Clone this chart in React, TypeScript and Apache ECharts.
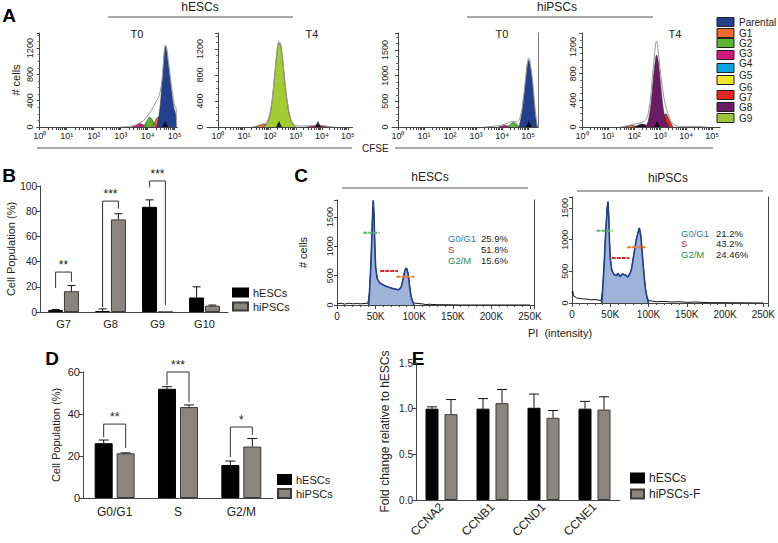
import React, { useEffect, useRef } from "react";
import * as echarts from "echarts";

const FONT = "'Liberation Sans', Arial, Helvetica, sans-serif";
const GREY = "#8b8580";

// ---------- Panel A : CFSE histograms (x = log10 CFSE, y = # cells) ----------
const aTickLabels = ["10⁰", "10¹", "10²", "10³", "10⁴", "10⁵"];
const aLegendNames = ["Parental", "G1", "G2", "G3", "G4", "G5", "G6", "G7", "G8", "G9"];
const aLegendColors = ["#23408e", "#ee6b2d", "#5cb533", "#d3177b", "#0aa5dc", "#ede82c", "#e3261f", "#6a1b63", "#9ec63b"];
const cParental = "#23408e", cG1 = "#ee6b2d", cG2 = "#5cb533", cG3 = "#d3177b", cG7 = "#e3261f", cG8 = "#6a1b63", cG9 = "#a2cc30", cDark = "#2a1030";

const a1Envelope = [[3.0,0],[3.3,10],[3.5,25],[3.7,60],[3.9,120],[4.05,200],[4.2,300],[4.3,380],[4.4,450],[4.5,620],[4.57,900],[4.62,1180],[4.66,1250],[4.71,1180],[4.78,960],[4.86,700],[4.94,450],[5.0,320],[5.05,290],[5.07,0]];
const a1Parental = [[4.33,0],[4.4,120],[4.47,350],[4.53,650],[4.58,950],[4.62,1150],[4.65,1225],[4.69,1190],[4.75,1000],[4.82,750],[4.9,480],[4.97,290],[5.03,200],[5.06,0]];
const a1G1 = [[4.15,0],[4.25,60],[4.33,130],[4.38,150],[4.45,110],[4.52,40],[4.58,0]];
const a1G2 = [[3.8,0],[3.9,40],[4.0,110],[4.07,150],[4.15,120],[4.25,50],[4.32,0]];
const a1G3 = [[3.4,0],[3.55,20],[3.7,50],[3.85,30],[3.95,0]];
const a1Markers = [[4.65,0]];

const a2Envelope = [[1.3,0],[1.5,15],[1.7,45],[1.85,60],[2.0,210],[2.1,470],[2.2,870],[2.28,1200],[2.35,1320],[2.42,1270],[2.5,1020],[2.6,620],[2.7,320],[2.8,130],[2.9,50],[3.1,15],[3.5,15],[3.8,28],[4.0,22],[4.3,5],[4.5,0]];
const a2G9 = [[1.75,0],[1.9,55],[2.0,190],[2.1,440],[2.2,840],[2.28,1170],[2.35,1290],[2.42,1240],[2.5,990],[2.6,590],[2.7,290],[2.8,110],[2.9,35],[3.0,0]];
const a2G1 = [[1.4,0],[1.6,25],[1.75,45],[1.9,25],[2.0,0]];
const a2G3 = [[3.4,0],[3.6,15],[3.8,25],[4.0,20],[4.2,10],[4.3,0]];
const a2Markers = [[2.35,0],[3.85,0]];

const a3Envelope = [[3.3,0],[3.7,15],[4.0,40],[4.2,70],[4.4,110],[4.55,100],[4.68,170],[4.78,420],[4.87,780],[4.94,1100],[5.0,1330],[5.04,1340],[5.08,1250],[5.15,1000],[5.22,650],[5.28,300],[5.33,100],[5.36,0]];
const a3Parental = [[4.65,0],[4.72,150],[4.8,400],[4.87,750],[4.93,1050],[4.98,1250],[5.02,1300],[5.06,1240],[5.12,1050],[5.18,780],[5.24,420],[5.3,150],[5.35,0]];
const a3G2 = [[4.2,0],[4.3,40],[4.42,90],[4.55,60],[4.65,0]];
const a3G3 = [[3.85,0],[4.0,20],[4.1,35],[4.2,20],[4.3,0]];
const a3Markers = [[5.03,0]];

const a4Envelope = [[1.5,0],[1.8,25],[2.1,50],[2.3,70],[2.45,110],[2.55,220],[2.65,520],[2.75,960],[2.82,1230],[2.86,1290],[2.92,1160],[3.0,860],[3.1,560],[3.2,330],[3.3,200],[3.4,100],[3.55,30],[3.8,10],[4.2,10],[4.6,5],[4.8,0]];
const a4G8 = [[2.45,0],[2.55,100],[2.65,350],[2.72,650],[2.8,950],[2.86,1080],[2.92,1000],[3.0,700],[3.08,400],[3.15,200],[3.25,60],[3.35,0]];
const a4G7 = [[2.95,0],[3.05,80],[3.15,170],[3.22,200],[3.3,150],[3.4,70],[3.5,0]];
const a4Dark = [[2.0,0],[2.15,25],[2.3,45],[2.45,30],[2.55,0]];
const a4G1 = [[1.6,0],[1.75,15],[1.9,25],[2.05,10],[2.15,0]];
const a4Markers = [[2.88,0]];

// ---------- Panel B ----------
const bCategories = ["G7", "G8", "G9", "G10"];
const bHesc = [1.5, 0.8, 83.5, 11.5];
const bHescErr = [2, 2.5, 89, 20];
const bHipsc = [16.5, 73.5, 0, 5];
const bHipscErr = [21, 78, 0, 5.5];
const bBrackets = [[0, 19, 24, 31.7], [1, 4, 82, 88], [2, 99, 5.5, 104]];
const bStars = ["**", "***", "***"];

// ---------- Panel C : PI histograms (x in K) ----------
const cXTicks = [0, 50, 100, 150, 200, 250];
const cHescRaw = [[0,20],[5,30],[10,15],[15,30],[20,20],[25,25],[30,20],[35,25],[40,30],[42,200],[44,700],[46,1500],[47,1780],[48,1500],[49,1000],[50,650],[52,450],[55,380],[60,340],[65,310],[70,290],[75,270],[80,260],[83,300],[86,450],[88,590],[90,630],[92,540],[94,330],[96,140],[98,60],[100,35],[105,25],[110,20],[115,8],[120,12],[130,5],[140,5],[160,0],[200,0],[250,0]];
const cHescFit = [[41,0],[42,200],[44,700],[46,1500],[47,1780],[48,1500],[49,1000],[50,650],[52,450],[55,380],[60,340],[65,310],[70,290],[75,270],[80,260],[83,300],[86,450],[88,590],[90,630],[92,540],[94,330],[96,140],[98,60],[100,0]];
const cHipscRaw = [[0,160],[1,190],[2,110],[4,100],[6,80],[10,70],[15,65],[20,60],[25,50],[30,55],[35,45],[38,40],[40,200],[42,600],[44,1100],[46,1500],[47,1600],[48,1350],[49,950],[50,700],[52,520],[55,450],[58,430],[60,470],[63,420],[66,460],[70,440],[73,410],[76,470],[78,550],[80,700],[82,850],[84,1000],[86,1100],[88,1185],[90,1050],[92,750],[94,450],[96,220],[98,90],[100,40],[105,30],[110,20],[120,25],[130,15],[140,20],[150,10],[160,15],[180,5],[200,5],[250,0]];
const cHipscFit = [[39,0],[40,200],[42,600],[44,1100],[46,1500],[47,1600],[48,1350],[49,950],[50,700],[52,520],[55,450],[58,430],[60,470],[63,420],[66,460],[70,440],[73,410],[76,470],[78,550],[80,700],[82,850],[84,1000],[86,1100],[88,1185],[90,1050],[92,750],[94,450],[96,220],[98,90],[100,0]];
const cHescG1Mark = [[34,1230],[55,1230]];
const cHescSMark = [[56,580],[79,580]];
const cHescG2Mark = [[77,480],[100,480]];
const cHipscG1Mark = [[32,1140],[53,1140]];
const cHipscSMark = [[52,710],[75,710]];
const cHipscG2Mark = [[72,880],[96,880]];
const cPhaseNames = ["G0/G1", "S", "G2/M"];
const cHescPhasePct = ["25.9%", "51.8%", "15.6%"];
const cHipscPhasePct = ["21.2%", "43.2%", "24.46%"];

// ---------- Panel D ----------
const dCategories = ["G0/G1", "S", "G2/M"];
const dHesc = [26.1, 52, 15.7];
const dHescErr = [27.6, 53, 17.6];
const dHipsc = [21.3, 43.3, 24.5];
const dHipscErr = [21.5, 44.3, 28.3];
const dBrackets = [[0, 29, 23.8, 35.2], [1, 53.8, 45.7, 60], [2, 19.5, 30, 33.8]];
const dStars = ["**", "***", "*"];

// ---------- Panel E ----------
const eCategories = ["CCNA2", "CCNB1", "CCND1", "CCNE1"];
const eHesc = [1.0, 1.0, 1.01, 1.0];
const eHescErr = [1.02, 1.11, 1.16, 1.08];
const eHipsc = [0.94, 1.06, 0.9, 0.99];
const eHipscErr = [1.1, 1.21, 0.98, 1.13];

const aMinorTicks: number[] = [];
for (let n = 0; n < 5; n++) for (let d = 1; d < 10; d++) aMinorTicks.push(Math.log10(d * Math.pow(10, n)));
aMinorTicks.push(5);

function aXLabel(v: number) {
  const r = Math.round(v);
  return Math.abs(v - r) < 1e-6 && r >= 0 && r <= 5 ? aTickLabels[r] : "";
}

function errData(vals: number[], errs: number[]) {
  const out: number[][] = [];
  vals.forEach((v, i) => { if (errs[i] > v) out.push([i, v, errs[i]]); });
  return out;
}

function errorSeries(idx: number, data: number[][], offset: number, half: number) {
  return {
    type: "custom", xAxisIndex: idx, yAxisIndex: idx, z: 5, silent: true, clip: false, data,
    renderItem: (params: any, api: any) => {
      const base = api.coord([api.value(0), api.value(1)]);
      const top = api.coord([api.value(0), api.value(2)]);
      const x = base[0] + offset;
      return {
        type: "group", children: [
          { type: "line", shape: { x1: x, y1: base[1], x2: x, y2: top[1] }, style: { stroke: "#111", lineWidth: 1 } },
          { type: "line", shape: { x1: x - half, y1: top[1], x2: x + half, y2: top[1] }, style: { stroke: "#111", lineWidth: 1 } },
        ],
      };
    },
  };
}

function bracketSeries(idx: number, data: number[][], stars: string[], offset: number) {
  return {
    type: "custom", xAxisIndex: idx, yAxisIndex: idx, z: 6, silent: true, clip: false, data,
    renderItem: (params: any, api: any) => {
      const c = api.value(0);
      const l = api.coord([c, api.value(1)]);
      const r = api.coord([c, api.value(2)]);
      const t = api.coord([c, api.value(3)]);
      const xl = l[0] - offset, xr = l[0] + offset;
      return {
        type: "group", children: [
          { type: "polyline", shape: { points: [[xl, l[1]], [xl, t[1]], [xr, t[1]], [xr, r[1]]] }, style: { stroke: "#333", fill: null, lineWidth: 1 } },
          { type: "text", x: (xl + xr) / 2, y: t[1] - 1, style: { text: stars[params.dataIndex], align: "center", verticalAlign: "bottom", fill: "#222", font: `12px ${FONT}` } },
        ],
      };
    },
  };
}

function areaSeries(idx: number, data: number[][], color: string, z = 2) {
  return {
    type: "line", xAxisIndex: idx, yAxisIndex: idx, data, symbol: "none", smooth: 0.35, z, silent: true,
    lineStyle: { color: "#333", width: 0.6 }, areaStyle: { color, opacity: 1 },
  };
}
function outlineSeries(idx: number, data: number[][]) {
  return {
    type: "line", xAxisIndex: idx, yAxisIndex: idx, data, symbol: "none", smooth: 0.35, z: 4, silent: true,
    lineStyle: { color: "#9a9a9a", width: 1 },
  };
}
function markerSeries(idx: number, data: number[][]) {
  return {
    type: "scatter", xAxisIndex: idx, yAxisIndex: idx, data, symbol: "triangle", symbolSize: [6, 6], symbolOffset: [0, -3],
    itemStyle: { color: "#000" }, z: 7, silent: true,
  };
}
function segSeries(idx: number, data: number[][], color: string) {
  return {
    type: "line", xAxisIndex: idx, yAxisIndex: idx, data, symbol: "none", z: 8, silent: true,
    lineStyle: { color, width: 2, type: [4, 1] },
  };
}

const axisLineStyle = { color: "#444", width: 1 };

function aX(grid: number, min: number, max: number) {
  return {
    gridIndex: grid, type: "value", min, max, splitLine: { show: false },
    axisLine: { lineStyle: axisLineStyle },
    axisTick: { length: 3, customValues: aMinorTicks, lineStyle: axisLineStyle },
    axisLabel: { customValues: [0, 1, 2, 3, 4, 5], formatter: aXLabel, fontSize: 9, margin: 4, color: "#222", fontFamily: FONT },
  };
}
function aY(grid: number, max: number, interval: number, extra: any = {}) {
  return {
    gridIndex: grid, type: "value", min: 0, max, interval, splitLine: { show: false },
    axisLine: { show: true, lineStyle: axisLineStyle },
    axisTick: { show: true, length: 3, lineStyle: axisLineStyle },
    minorTick: { show: true, splitNumber: 4, length: 2, lineStyle: { color: "#666" } },
    axisLabel: { rotate: 90, fontSize: 9, margin: 3, color: "#222", fontFamily: FONT, formatter: (v: number) => (v % interval === 0 ? String(v) : "") },
    ...extra,
  };
}
function cX(grid: number) {
  return {
    gridIndex: grid, type: "value", min: 0, max: 256, interval: 50, splitLine: { show: false },
    axisLine: { lineStyle: axisLineStyle },
    axisTick: { length: 4, lineStyle: axisLineStyle },
    minorTick: { show: true, splitNumber: 5, length: 2, lineStyle: axisLineStyle },
    axisLabel: { fontSize: 10, margin: 6, color: "#222", fontFamily: FONT, formatter: (v: number) => (cXTicks.indexOf(v) >= 0 ? (v === 0 ? "0" : v + "K") : "") },
  };
}
function catX(grid: number, cats: string[], fontSize: number, extra: any = {}) {
  return {
    gridIndex: grid, type: "category", data: cats, axisLine: { lineStyle: axisLineStyle }, axisTick: { show: false },
    axisLabel: { fontSize, color: "#222", fontFamily: FONT, margin: 6, interval: 0, ...extra },
  };
}
function barY(grid: number, max: number, interval: number, name: string, gap: number, fontSize: number, nameSize: number, fmt?: (v: number) => string) {
  return {
    gridIndex: grid, type: "value", min: 0, max, interval, splitLine: { show: false },
    axisLine: { show: true, lineStyle: axisLineStyle }, axisTick: { show: true, length: 4, lineStyle: axisLineStyle },
    axisLabel: { fontSize, color: "#222", fontFamily: FONT, margin: 3, ...(fmt ? { formatter: fmt } : {}) },
    name, nameLocation: "middle", nameGap: gap, nameTextStyle: { fontSize: nameSize, color: "#222", fontFamily: FONT },
  };
}
function barSeries(name: string, idx: number, data: number[], black: boolean, width: number, gap: string) {
  return {
    name, type: "bar", xAxisIndex: idx, yAxisIndex: idx, data, barWidth: width, barGap: gap, silent: true,
    itemStyle: black ? { color: "#000", borderColor: "#000", borderWidth: 1 } : { color: GREY, borderColor: "#3a3a3a", borderWidth: 1 },
  };
}

function txt(text: string, x: number, y: number, size: number, opts: any = {}) {
  return {
    type: "text", x, y, silent: true,
    style: { text, font: `${opts.bold ? "bold " : ""}${size}px ${FONT}`, fill: opts.fill || "#222", align: opts.align || "center", verticalAlign: "middle" },
  };
}
function hline(x1: number, x2: number, y: number) {
  return { type: "line", silent: true, shape: { x1, y1: y, x2, y2: y }, style: { stroke: "#555", lineWidth: 1 } };
}

export default function App() {
  const ref = useRef<HTMLDivElement>(null);
  useEffect(() => {
    document.body.style.margin = "0";
    const chart = echarts.init(ref.current!, undefined, { renderer: "svg" });

    const grids = [
      { left: 37, top: 33, width: 140.4, height: 94 },
      { left: 207, top: 33, width: 145.5, height: 94 },
      { left: 392, top: 33, width: 146, height: 94 },
      { left: 580, top: 33, width: 140, height: 94 },
      { left: 40, top: 186, width: 188, height: 126 },
      { left: 337, top: 200, width: 197.6, height: 105 },
      { left: 572, top: 197, width: 197, height: 106 },
      { left: 83, top: 372, width: 190, height: 126 },
      { left: 416, top: 363, width: 204, height: 137 },
    ];

    const xAxis = [
      aX(0, -0.1, 5.1), aX(1, -0.42, 5.18), aX(2, -0.23, 5.38), aX(3, -0.08, 5.3),
      catX(4, bCategories, 11),
      cX(5), cX(6),
      catX(7, dCategories, 12, { margin: 8 }),
      catX(8, eCategories, 12, { rotate: 45, margin: 5 }),
    ];
    const yAxis: any[] = [
      aY(0, 1430, 400, { name: "# cells", nameLocation: "middle", nameGap: 16, nameTextStyle: { fontSize: 11, color: "#222", fontFamily: FONT } }),
      aY(1, 1445, 400),
      aY(2, 1830, 500),
      aY(3, 1410, 400),
      barY(4, 100, 20, "Cell Population (%)", 23, 10, 11),
      aY(5, 1790, 500, { name: "# cells", nameLocation: "middle", nameGap: 29, nameTextStyle: { fontSize: 11, color: "#222", fontFamily: FONT }, minorTick: { show: false } }),
      aY(6, 1675, 500, { minorTick: { show: false } }),
      barY(7, 60, 20, "Cell Population (%)", 22, 11, 11),
      barY(8, 1.5, 0.5, "Fold change relative to hESCs", 25, 10, 12, (v: number) => v.toFixed(1)),
      { gridIndex: 5, type: "value", min: 0, max: 1790, position: "right", axisLine: { show: true, lineStyle: axisLineStyle }, axisTick: { show: false }, axisLabel: { show: false }, splitLine: { show: false } },
      { gridIndex: 6, type: "value", min: 0, max: 1675, position: "right", axisLine: { show: true, lineStyle: axisLineStyle }, axisTick: { show: false }, axisLabel: { show: false }, splitLine: { show: false } },
      { gridIndex: 2, type: "value", min: 0, max: 1830, position: "right", axisLine: { show: true, lineStyle: { color: "#777" } }, axisTick: { show: false }, axisLabel: { show: false }, splitLine: { show: false } },
    ];

    const series: any[] = [
      // A1
      areaSeries(0, a1G3, cG3), areaSeries(0, a1G2, cG2), areaSeries(0, a1G1, cG1), areaSeries(0, a1Parental, cParental, 3),
      outlineSeries(0, a1Envelope), markerSeries(0, a1Markers),
      // A2
      areaSeries(1, a2G1, cG1), areaSeries(1, a2G3, cG3), areaSeries(1, a2G9, cG9, 3),
      outlineSeries(1, a2Envelope), markerSeries(1, a2Markers),
      // A3
      areaSeries(2, a3G3, cG3), areaSeries(2, a3G2, cG2), areaSeries(2, a3Parental, cParental, 3),
      outlineSeries(2, a3Envelope), markerSeries(2, a3Markers),
      // A4
      areaSeries(3, a4G1, cG1), areaSeries(3, a4Dark, cDark), areaSeries(3, a4G7, cG7), areaSeries(3, a4G8, cG8, 3),
      outlineSeries(3, a4Envelope), markerSeries(3, a4Markers),
      // B
      barSeries("hESCs", 4, bHesc, true, 15, "6%"), barSeries("hiPSCs", 4, bHipsc, false, 15, "6%"),
      errorSeries(4, errData(bHesc, bHescErr), -7.9, 4), errorSeries(4, errData(bHipsc, bHipscErr), 7.9, 4),
      bracketSeries(4, bBrackets, bStars, 7.9),
      // C left
      { type: "line", xAxisIndex: 5, yAxisIndex: 5, data: cHescFit, symbol: "none", z: 3, silent: true, lineStyle: { color: "#1d3f8e", width: 1.6 }, areaStyle: { color: "#9fb3d8", opacity: 1 } },
      { type: "line", xAxisIndex: 5, yAxisIndex: 5, data: cHescRaw, symbol: "none", z: 2, silent: true, lineStyle: { color: "#111", width: 1 } },
      segSeries(5, cHescG1Mark, "#5cb56a"), segSeries(5, cHescSMark, "#d6282c"), segSeries(5, cHescG2Mark, "#f07a24"),
      // C right
      { type: "line", xAxisIndex: 6, yAxisIndex: 6, data: cHipscFit, symbol: "none", z: 3, silent: true, lineStyle: { color: "#1d3f8e", width: 1.6 }, areaStyle: { color: "#9fb3d8", opacity: 1 } },
      { type: "line", xAxisIndex: 6, yAxisIndex: 6, data: cHipscRaw, symbol: "none", z: 2, silent: true, lineStyle: { color: "#111", width: 1 } },
      segSeries(6, cHipscG1Mark, "#5cb56a"), segSeries(6, cHipscSMark, "#d6282c"), segSeries(6, cHipscG2Mark, "#f07a24"),
      // D
      barSeries("hESCs", 7, dHesc, true, 18, "22%"), barSeries("hiPSCs", 7, dHipsc, false, 18, "22%"),
      errorSeries(7, errData(dHesc, dHescErr), -11, 5), errorSeries(7, errData(dHipsc, dHipscErr), 11, 5),
      bracketSeries(7, dBrackets, dStars, 11),
      // E
      barSeries("hESCs", 8, eHesc, true, 13, "46%"), barSeries("hiPSCs-F", 8, eHipsc, false, 13, "46%"),
      errorSeries(8, errData(eHesc, eHescErr), -9.5, 5), errorSeries(8, errData(eHipsc, eHipscErr), 9.5, 5),
    ];

    const legendBase = { orient: "vertical", icon: "rect", selectedMode: false, itemGap: 3, padding: 0 };
    const legend = [
      { ...legendBase, data: ["hESCs", "hiPSCs"], left: 232, top: 287, itemWidth: 15, itemHeight: 8, textStyle: { fontSize: 11, color: "#222", fontFamily: FONT } },
      { ...legendBase, data: ["hESCs", "hiPSCs"], left: 277, top: 474, itemWidth: 13, itemHeight: 9, textStyle: { fontSize: 11, color: "#222", fontFamily: FONT } },
      { ...legendBase, data: ["hESCs", "hiPSCs-F"], left: 630, top: 472, itemWidth: 13, itemHeight: 9, itemGap: 4, textStyle: { fontSize: 12, color: "#222", fontFamily: FONT } },
    ];

    const boxY = [22, 33, 43, 55, 68, 80, 95, 107, 118];
    const labelY = [22, 33, 43, 53, 63, 75, 87, 97, 107, 118];
    const phaseColors = ["#2a7fa8", "#b03040", "#2e8b57"];
    const graphic: any[] = [
      txt("A", 9, 15, 19, { bold: true, fill: "#000" }),
      txt("B", 9, 175, 19, { bold: true, fill: "#000" }),
      txt("C", 301, 175, 19, { bold: true, fill: "#000" }),
      txt("D", 52, 358, 19, { bold: true, fill: "#000" }),
      txt("E", 418, 358, 19, { bold: true, fill: "#000" }),
      txt("hESCs", 200, 7, 12), hline(108, 293, 17),
      txt("hiPSCs", 557, 7, 12), hline(467, 653, 17),
      txt("T0", 137, 34, 11), txt("T4", 312, 34, 11), txt("T0", 502, 34, 11), txt("T4", 675, 34, 11),
      hline(37, 352, 148), hline(395, 713, 148), txt("CFSE", 362, 148, 10, { align: "left" }),
      txt("hESCs", 430, 177, 12), hline(342, 528, 188),
      txt("hiPSCs", 668, 178, 12), hline(577, 763, 191),
      txt("PI  (intensity)", 560, 333, 11),
    ];
    cPhaseNames.forEach((p, i) => {
      graphic.push(txt(p, 448, 238 + i * 11, 9.5, { align: "left", fill: phaseColors[i] }));
      graphic.push(txt(cHescPhasePct[i], 481, 238 + i * 11, 9.5, { align: "left" }));
      graphic.push(txt(p, 681, 233 + i * 10.5, 9.5, { align: "left", fill: phaseColors[i] }));
      graphic.push(txt(cHipscPhasePct[i], 716, 233 + i * 10.5, 9.5, { align: "left" }));
    });
    aLegendColors.forEach((c, i) => {
      graphic.push({ type: "rect", silent: true, shape: { x: 717, y: boxY[i] - 4.5, width: 17, height: 9 }, style: { fill: c, stroke: "#222", lineWidth: 1 } });
    });
    aLegendNames.forEach((n, i) => graphic.push(txt(n, 739, labelY[i], 10, { align: "left" })));

    chart.setOption({
      animation: false,
      backgroundColor: "#fff",
      textStyle: { fontFamily: FONT },
      grid: grids,
      xAxis,
      yAxis,
      series,
      legend,
      graphic,
    });
    return () => chart.dispose();
  }, []);
  return <div ref={ref} style={{ width: 778, height: 543, position: "absolute", left: 0, top: 0 }} />;
}
